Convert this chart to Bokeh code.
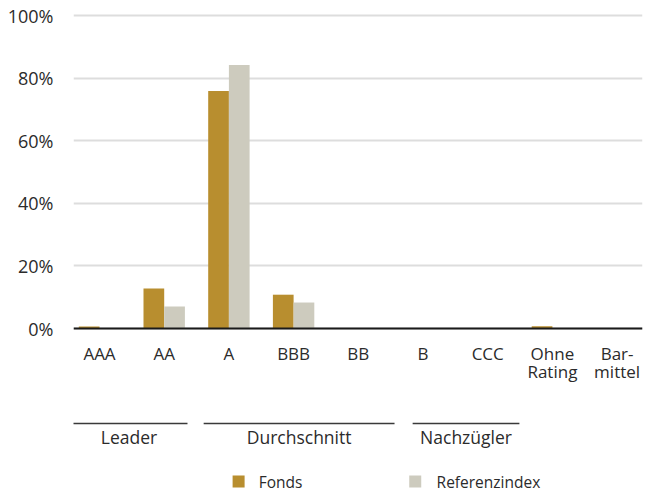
from bokeh.plotting import figure
from bokeh.models import FixedTicker, Range1d, Span
from bokeh.core.properties import value
from bokeh.embed import file_html
from bokeh.resources import INLINE

# ---- data ----
categories = ["AAA", "AA", "A", "BBB", "BB", "B", "CCC", "Ohne\nRating", "Bar-\nmittel"]
fonds = [0.6, 12.8, 75.9, 10.8, 0, 0, 0, 0.7, 0]
referenz = [0, 7.0, 84.2, 8.3, 0, 0, 0, 0, 0]
y_ticks = [0, 20, 40, 60, 80, 100]
y_tick_labels = ["0%", "20%", "40%", "60%", "80%", "100%"]
groups = ["Leader", "Durchschnitt", "Nachzügler"]
series_names = ["Fonds", "Referenzindex"]

# ---- layout / style ----
FONT = "Open Sans"
C_FONDS = "#B88E2F"
C_REF = "#CDCBBE"
TXT = "#2b2b2b"
PX_PER_CAT = 64.7
PX_PER_PCT = 3.13
group_line_x0 = [-0.45, 1.61, 4.84]
group_line_x1 = [1.36, 4.56, 6.49]
legend_sq_x = [2.15, 4.88]
legend_txt_x = [2.46, 5.21]

# page coords (figure at 0,0): frame x 73..642, y 12..494 ; category 0 at x=99 ; 0% at y=328
def yv(py):
    return (328 - py) / PX_PER_PCT

x_lo = (73 - 99) / PX_PER_CAT
x_hi = (642 - 99) / PX_PER_CAT

p = figure(width=649, height=494, x_range=Range1d(x_lo, x_hi), y_range=Range1d(yv(494), yv(12)),
           output_backend="svg", toolbar_location=None, x_axis_location=None,
           min_border_left=73, min_border_right=7, min_border_top=12, min_border_bottom=0)
p.outline_line_color = None
p.background_fill_color = "white"
p.border_fill_color = "white"
p.xgrid.visible = False

ya = p.yaxis[0]
ya.ticker = FixedTicker(ticks=y_ticks)
ya.major_label_overrides = {t: l for t, l in zip(y_ticks, y_tick_labels)}
ya.axis_line_color = None
ya.major_tick_line_color = None
ya.minor_tick_line_color = None
ya.major_tick_in = 0
ya.major_tick_out = 0
ya.major_label_standoff = 20
ya.major_label_text_font = FONT
ya.major_label_text_font_size = "18px"
ya.major_label_text_color = TXT
p.ygrid.grid_line_color = "#DDDDDD"
p.ygrid.grid_line_width = 2

xs = list(range(len(categories)))
bw = 0.32
p.vbar(x=[x - bw / 2 for x in xs], top=fonds, bottom=0, width=bw, fill_color=C_FONDS, line_color=None)
p.vbar(x=[x + bw / 2 for x in xs], top=referenz, bottom=0, width=bw, fill_color=C_REF, line_color=None)
p.add_layout(Span(location=0, dimension="width", line_color="#1a1a1a", line_width=2))

# category labels (split into two lines)
line1 = [c.split("\n")[0] for c in categories]
line2 = [c.split("\n")[1] if "\n" in c else "" for c in categories]
p.text(x=xs, y=[yv(353)] * len(xs), text=line1, text_align="center", text_baseline="middle",
       text_font=value(FONT), text_font_size="17px", text_color=TXT)
p.text(x=xs, y=[yv(371)] * len(xs), text=line2, text_align="center", text_baseline="middle",
       text_font=value(FONT), text_font_size="17px", text_color=TXT)

# group lines and labels
gy = yv(423)
p.segment(x0=group_line_x0, x1=group_line_x1, y0=[gy] * 3, y1=[gy] * 3, line_color="#3a3a3a", line_width=1.5)
p.text(x=[(a + b) / 2 for a, b in zip(group_line_x0, group_line_x1)], y=[yv(436)] * 3,
       text=groups, text_align="center", text_baseline="middle", text_font=value(FONT),
       text_font_size="17.5px", text_color=TXT)

# legend
ly = yv(481)
p.scatter(x=legend_sq_x, y=[ly] * 2, marker="square", size=12, fill_color=[C_FONDS, C_REF], line_color=None)
p.text(x=legend_txt_x, y=[ly] * 2, text=series_names, text_align="left", text_baseline="middle",
       text_font=value(FONT), text_font_size="15.5px", text_color=TXT)

open("out.html", "w").write(file_html(p, INLINE))
